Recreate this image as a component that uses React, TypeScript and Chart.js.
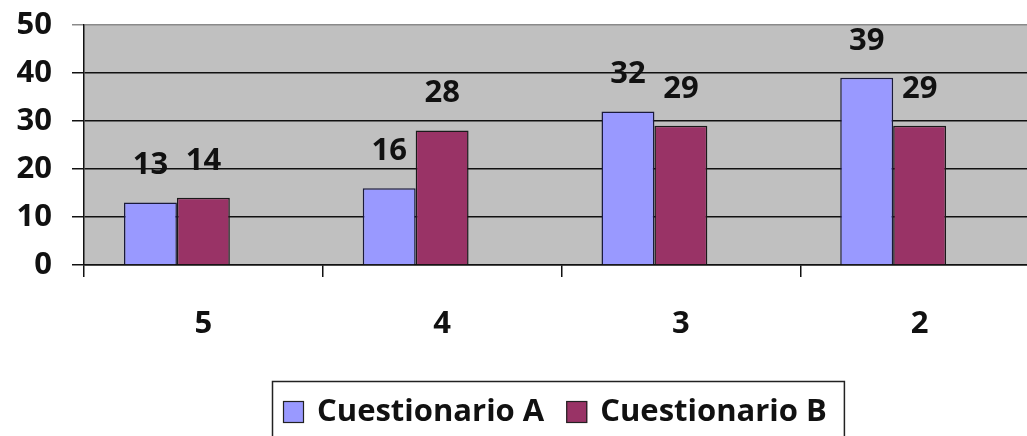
import React, { useEffect, useRef } from "react";
import { Chart, registerables } from "chart.js";

Chart.register(...registerables);

const categories = ["5", "4", "3", "2"];
const cuestionarioA = [13, 16, 32, 39];
const cuestionarioB = [14, 28, 29, 29];
const emptySlot: (number | null)[] = [null, null, null, null];
const seriesNames = ["Cuestionario A", "Cuestionario B"];
const seriesColors = ["#9999FF", "#993366"];
const yMin = 0;
const yMax = 50;
const yStep = 10;

const FONT = "'Open Sans'";

const plotBackground = {
  id: "plotBackground",
  beforeDraw(chart: any) {
    const { ctx, chartArea } = chart;
    ctx.save();
    ctx.fillStyle = "#C0C0C0";
    ctx.fillRect(chartArea.left, chartArea.top, chartArea.right - chartArea.left, chartArea.bottom - chartArea.top);
    ctx.restore();
  },
};

const valueLabels = {
  id: "valueLabels",
  afterDatasetsDraw(chart: any) {
    const { ctx } = chart;
    ctx.save();
    ctx.font = `bold 31px ${FONT}`;
    ctx.fillStyle = "#111";
    ctx.textAlign = "center";
    ctx.textBaseline = "middle";
    [0, 1].forEach((di) => {
      const meta = chart.getDatasetMeta(di);
      const data = chart.data.datasets[di].data;
      meta.data.forEach((el: any, i: number) => {
        const v = data[i];
        if (v == null) return;
        ctx.fillText(String(v), el.x, el.y - 37);
      });
    });
    ctx.restore();
  },
};

const boxLegend = {
  id: "boxLegend",
  afterDraw(chart: any) {
    const { ctx } = chart;
    ctx.save();
    ctx.font = `bold 31px ${FONT}`;
    ctx.textBaseline = "middle";
    ctx.textAlign = "left";
    const left = 272;
    const top = 381;
    const midY = 412;
    const sq = 21;
    let x = left + 11;
    const items: { x: number; tx: number; w: number; c: string; t: string }[] = [];
    seriesNames.forEach((name, i) => {
      const w = ctx.measureText(name).width;
      items.push({ x, tx: x + sq + 13, w, c: seriesColors[i], t: name });
      x = x + sq + 13 + w + 22;
    });
    const right = x - 22 + 17;
    ctx.lineWidth = 1.5;
    ctx.strokeStyle = "#222";
    ctx.strokeRect(left + 0.5, top + 0.5, right - left, 64);
    items.forEach((it) => {
      ctx.fillStyle = it.c;
      ctx.fillRect(it.x, midY - 11, sq, 22);
      ctx.lineWidth = 1.2;
      ctx.strokeStyle = "#222";
      ctx.strokeRect(it.x + 0.5, midY - 11 + 0.5, sq - 1, 21);
      ctx.fillStyle = "#111";
      ctx.fillText(it.t, it.tx, midY);
    });
    ctx.restore();
  },
};

export default function App() {
  const ref = useRef<HTMLCanvasElement | null>(null);
  useEffect(() => {
    if (!ref.current) return;
    const chart = new Chart(ref.current, {
      type: "bar",
      data: {
        labels: categories,
        datasets: [
          {
            label: seriesNames[0],
            data: cuestionarioA,
            backgroundColor: seriesColors[0],
            borderColor: "#1a1a3a",
            borderWidth: 1.5,
          },
          {
            label: seriesNames[1],
            data: cuestionarioB,
            backgroundColor: seriesColors[1],
            borderColor: "#1a1a1a",
            borderWidth: 1.5,
          },
          {
            label: "",
            data: emptySlot,
            backgroundColor: "rgba(0,0,0,0)",
          },
        ],
      },
      options: {
        responsive: false,
        animation: false,
        devicePixelRatio: 1,
        layout: { padding: { top: 25, right: 11, left: 0, bottom: 0 } },
        datasets: {
          bar: { categoryPercentage: 0.665, barPercentage: 1 },
        },
        plugins: {
          legend: { display: false },
          tooltip: { enabled: false },
        },
        scales: {
          x: {
            offset: true,
            grid: {
              offset: true,
              drawOnChartArea: false,
              drawTicks: true,
              tickLength: 12,
              color: "#111",
              lineWidth: 1.5,
            },
            border: { display: true, color: "#111", width: 1.5 },
            ticks: {
              color: "#111",
              font: { family: FONT, size: 31, weight: "bold" },
              padding: 29,
            },
            afterFit(scale: any) {
              scale.height = 185;
              scale.paddingLeft = 0;
              scale.paddingRight = 0;
            },
          },
          y: {
            min: yMin,
            max: yMax,
            ticks: {
              stepSize: yStep,
              color: "#111",
              font: { family: FONT, size: 31, weight: "bold" },
              padding: 20,
            },
            grid: {
              color: (c: any) => (c.tick && c.tick.value === yMax ? "#8a8a8a" : "#111"),
              lineWidth: 1.5,
              drawTicks: true,
              tickLength: 12,
            },
            border: { display: true, color: "#111", width: 1.5 },
            afterFit(scale: any) {
              scale.width = 84;
              scale.paddingTop = 0;
              scale.paddingBottom = 0;
            },
          },
        },
      },
      plugins: [plotBackground, valueLabels, boxLegend],
    });
    return () => chart.destroy();
  }, []);
  return (
    <div
      style={{
        position: "fixed",
        left: 0,
        top: 0,
        width: 1027,
        height: 436,
        overflow: "hidden",
        background: "#fff",
      }}
    >
      <canvas ref={ref} width={1050} height={450} style={{ width: 1050, height: 450, display: "block" }} />
    </div>
  );
}
